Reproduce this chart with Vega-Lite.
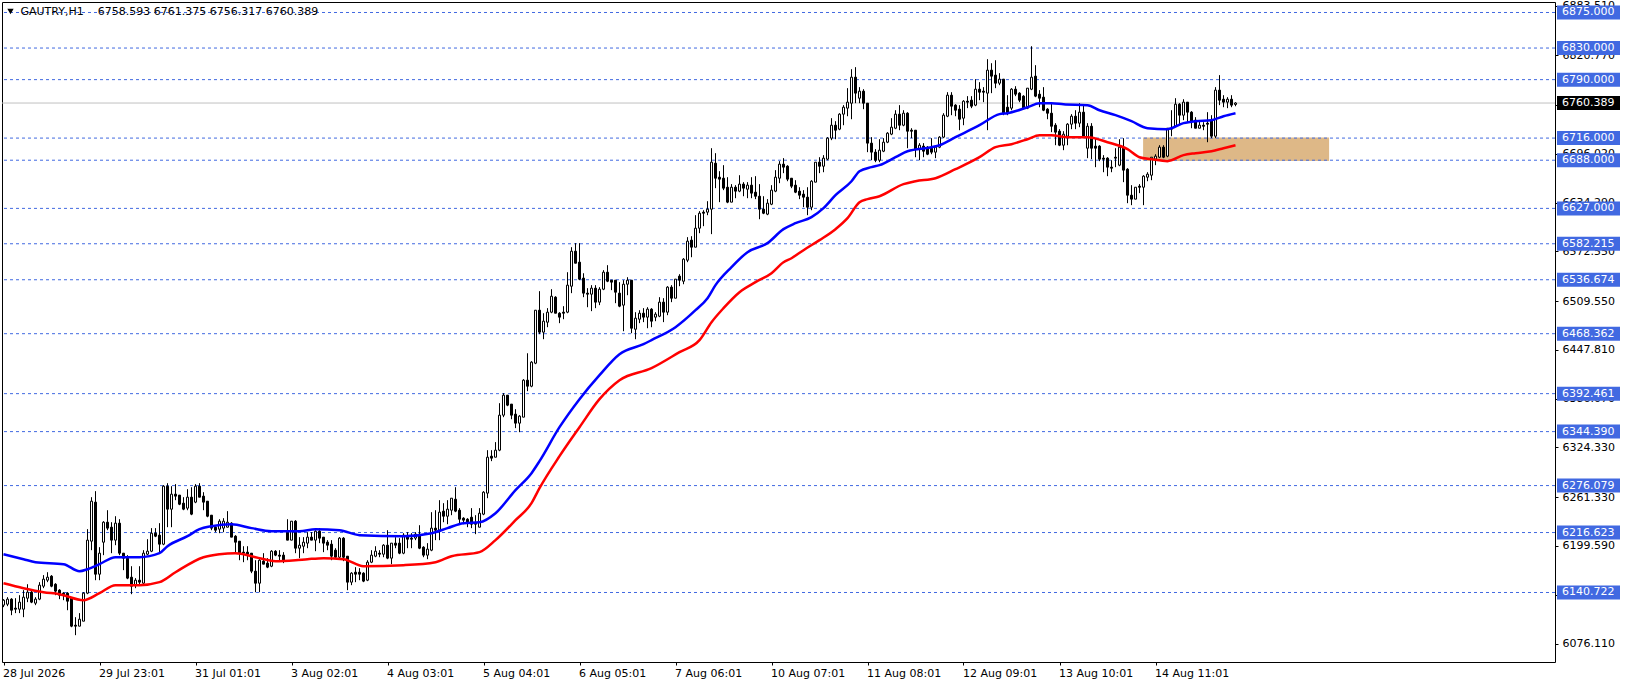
{
  "$schema": "https://vega.github.io/schema/vega-lite/v6.json",
  "autosize": {"type": "none"},
  "padding": {"left": 2, "top": 2, "right": 71, "bottom": 24},
  "width": 1553,
  "height": 660,
  "background": "white",
  "config": {
    "view": {"stroke": "black", "strokeWidth": 1},
    "font": "DejaVu Sans"
  },
  "datasets": {
    "candles": [
      {"i":0,"o":6124.7,"h":6132.3,"l":6122.2,"c":6131},
      {"i":1,"o":6125.9,"h":6134.8,"l":6123.4,"c":6132.3},
      {"i":2,"o":6132.3,"h":6133.5,"l":6112,"c":6118.3},
      {"i":3,"o":6120.9,"h":6133.5,"l":6114.6,"c":6119.6},
      {"i":4,"o":6119.6,"h":6137.3,"l":6114.6,"c":6128.5},
      {"i":5,"o":6119.6,"h":6143.7,"l":6109.5,"c":6134.8},
      {"i":6,"o":6133.5,"h":6151.2,"l":6128.5,"c":6141.1},
      {"i":7,"o":6141.1,"h":6143.7,"l":6127.2,"c":6128.5},
      {"i":8,"o":6127.2,"h":6134.8,"l":6124.7,"c":6132.3},
      {"i":9,"o":6132.3,"h":6153.8,"l":6131,"c":6150},
      {"i":10,"o":6148.7,"h":6162.7,"l":6146.2,"c":6157.6},
      {"i":11,"o":6156.3,"h":6166.4,"l":6153.8,"c":6160.1},
      {"i":12,"o":6161.4,"h":6162.7,"l":6147.4,"c":6148.7},
      {"i":13,"o":6151.2,"h":6152.5,"l":6137.3,"c":6142.4},
      {"i":14,"o":6143.7,"h":6144.9,"l":6132.3,"c":6137.3},
      {"i":15,"o":6139.9,"h":6141.1,"l":6131,"c":6137.3},
      {"i":16,"o":6139.9,"h":6141.1,"l":6118.3,"c":6129.7},
      {"i":17,"o":6133.5,"h":6134.8,"l":6096.8,"c":6098.1},
      {"i":18,"o":6099.3,"h":6109.5,"l":6086.7,"c":6098.1},
      {"i":19,"o":6098.1,"h":6114.6,"l":6098.1,"c":6106.9},
      {"i":20,"o":6104.4,"h":6141.1,"l":6104.4,"c":6139.9},
      {"i":21,"o":6139.9,"h":6220.9,"l":6138.6,"c":6207},
      {"i":22,"o":6205.7,"h":6261.4,"l":6194.3,"c":6256.3},
      {"i":23,"o":6255.1,"h":6269,"l":6156.3,"c":6163.9},
      {"i":24,"o":6163.9,"h":6198.1,"l":6156.3,"c":6190.5},
      {"i":25,"o":6204.4,"h":6231,"l":6188,"c":6229.7},
      {"i":26,"o":6229.7,"h":6244.9,"l":6219.6,"c":6222.2},
      {"i":27,"o":6223.4,"h":6229.7,"l":6190.5,"c":6207},
      {"i":28,"o":6207,"h":6237.3,"l":6200.6,"c":6228.5},
      {"i":29,"o":6228.5,"h":6233.5,"l":6188,"c":6190.5},
      {"i":30,"o":6190.5,"h":6190.5,"l":6169,"c":6184.2},
      {"i":31,"o":6184.2,"h":6188,"l":6157.6,"c":6158.9},
      {"i":32,"o":6160.1,"h":6174,"l":6138.6,"c":6148.7},
      {"i":33,"o":6150,"h":6158.9,"l":6146.2,"c":6156.3},
      {"i":34,"o":6156.3,"h":6174,"l":6151.2,"c":6153.8},
      {"i":35,"o":6152.5,"h":6194.3,"l":6151.2,"c":6190.5},
      {"i":36,"o":6189.2,"h":6208.2,"l":6188,"c":6193},
      {"i":37,"o":6193,"h":6222.2,"l":6191.8,"c":6215.8},
      {"i":38,"o":6215.8,"h":6222.2,"l":6210.8,"c":6212},
      {"i":39,"o":6213.3,"h":6228.5,"l":6190.5,"c":6201.9},
      {"i":40,"o":6201.9,"h":6276.6,"l":6200.6,"c":6275.3},
      {"i":41,"o":6275.3,"h":6279.1,"l":6223.4,"c":6246.2},
      {"i":42,"o":6246.2,"h":6275.3,"l":6223.4,"c":6265.2},
      {"i":43,"o":6265.2,"h":6277.9,"l":6257.6,"c":6262.7},
      {"i":44,"o":6264,"h":6264,"l":6251.3,"c":6252.5},
      {"i":45,"o":6253.8,"h":6261.4,"l":6244.9,"c":6246.2},
      {"i":46,"o":6247.5,"h":6271.5,"l":6244.9,"c":6261.4},
      {"i":47,"o":6261.4,"h":6274,"l":6238.6,"c":6239.9},
      {"i":48,"o":6255.1,"h":6277.9,"l":6253.8,"c":6275.3},
      {"i":49,"o":6275.3,"h":6279.1,"l":6261.4,"c":6261.4},
      {"i":50,"o":6262.7,"h":6267.7,"l":6244.9,"c":6255.1},
      {"i":51,"o":6256.3,"h":6256.3,"l":6236,"c":6237.3},
      {"i":52,"o":6238.6,"h":6238.6,"l":6219.6,"c":6222.2},
      {"i":53,"o":6223.4,"h":6225.9,"l":6217.1,"c":6219.6},
      {"i":54,"o":6220.9,"h":6233.5,"l":6215.8,"c":6231},
      {"i":55,"o":6222.2,"h":6234.8,"l":6217.1,"c":6231},
      {"i":56,"o":6223.4,"h":6243.7,"l":6223.4,"c":6229.7},
      {"i":57,"o":6228.5,"h":6229.7,"l":6210.8,"c":6210.8},
      {"i":58,"o":6212,"h":6213.3,"l":6190.5,"c":6204.4},
      {"i":59,"o":6205.7,"h":6205.7,"l":6181.6,"c":6190.5},
      {"i":60,"o":6191.8,"h":6199.3,"l":6179.1,"c":6190.5},
      {"i":61,"o":6191.8,"h":6199.3,"l":6181.6,"c":6189.2},
      {"i":62,"o":6190.5,"h":6190.5,"l":6165.2,"c":6167.7},
      {"i":63,"o":6167.7,"h":6181.6,"l":6141.1,"c":6152.5},
      {"i":64,"o":6152.5,"h":6182.9,"l":6141.1,"c":6181.6},
      {"i":65,"o":6180.4,"h":6190.5,"l":6176.6,"c":6176.6},
      {"i":66,"o":6177.9,"h":6184.2,"l":6171.5,"c":6172.8},
      {"i":67,"o":6174,"h":6194.3,"l":6172.8,"c":6193},
      {"i":68,"o":6193,"h":6194.3,"l":6186.7,"c":6188},
      {"i":69,"o":6188,"h":6194.3,"l":6181.6,"c":6186.7},
      {"i":70,"o":6188,"h":6191.8,"l":6177.9,"c":6181.6},
      {"i":71,"o":6217.1,"h":6233.5,"l":6207,"c":6207},
      {"i":72,"o":6207,"h":6231,"l":6207,"c":6231},
      {"i":73,"o":6231,"h":6232.3,"l":6190.5,"c":6196.8},
      {"i":74,"o":6196.8,"h":6210.8,"l":6184.2,"c":6200.6},
      {"i":75,"o":6199.3,"h":6210.8,"l":6190.5,"c":6204.4},
      {"i":76,"o":6203.2,"h":6217.1,"l":6196.8,"c":6210.8},
      {"i":77,"o":6210.8,"h":6217.1,"l":6207,"c":6207},
      {"i":78,"o":6207,"h":6219.6,"l":6193,"c":6218.3},
      {"i":79,"o":6218.3,"h":6222.2,"l":6203.2,"c":6209.5},
      {"i":80,"o":6210.8,"h":6210.8,"l":6191.8,"c":6203.2},
      {"i":81,"o":6204.4,"h":6207,"l":6194.3,"c":6200.6},
      {"i":82,"o":6201.9,"h":6207,"l":6181.6,"c":6186.7},
      {"i":83,"o":6194.3,"h":6196.8,"l":6184.2,"c":6185.4},
      {"i":84,"o":6185.4,"h":6210.8,"l":6184.2,"c":6209.5},
      {"i":85,"o":6209.5,"h":6210.8,"l":6180.4,"c":6185.4},
      {"i":86,"o":6186.7,"h":6186.7,"l":6143.7,"c":6153.8},
      {"i":87,"o":6153.8,"h":6166.4,"l":6150,"c":6165.2},
      {"i":88,"o":6166.4,"h":6172.8,"l":6153.8,"c":6163.9},
      {"i":89,"o":6166.4,"h":6171.5,"l":6156.3,"c":6163.9},
      {"i":90,"o":6165.2,"h":6166.4,"l":6153.8,"c":6155.1},
      {"i":91,"o":6156.3,"h":6181.6,"l":6155.1,"c":6179.1},
      {"i":92,"o":6179.1,"h":6194.3,"l":6177.9,"c":6188},
      {"i":93,"o":6186.7,"h":6199.3,"l":6185.4,"c":6193},
      {"i":94,"o":6190.5,"h":6194.3,"l":6185.4,"c":6189.2},
      {"i":95,"o":6189.2,"h":6201.9,"l":6185.4,"c":6200.6},
      {"i":96,"o":6200.6,"h":6219.6,"l":6182.9,"c":6184.2},
      {"i":97,"o":6184.2,"h":6203.2,"l":6176.6,"c":6203.2},
      {"i":98,"o":6203.2,"h":6210.8,"l":6196.8,"c":6200.6},
      {"i":99,"o":6203.2,"h":6209.5,"l":6189.2,"c":6190.5},
      {"i":100,"o":6190.5,"h":6215.8,"l":6189.2,"c":6213.3},
      {"i":101,"o":6212,"h":6217.1,"l":6196.8,"c":6208.2},
      {"i":102,"o":6209.5,"h":6215.8,"l":6196.8,"c":6208.2},
      {"i":103,"o":6209.5,"h":6217.1,"l":6207,"c":6214.6},
      {"i":104,"o":6214.6,"h":6225.9,"l":6195.6,"c":6196.8},
      {"i":105,"o":6198.1,"h":6199.3,"l":6185.4,"c":6188},
      {"i":106,"o":6188,"h":6203.2,"l":6182.9,"c":6195.6},
      {"i":107,"o":6194.3,"h":6242.4,"l":6193,"c":6222.2},
      {"i":108,"o":6222.2,"h":6244.9,"l":6207,"c":6219.6},
      {"i":109,"o":6219.6,"h":6257.6,"l":6207,"c":6242.4},
      {"i":110,"o":6243.7,"h":6253.8,"l":6229.7,"c":6237.3},
      {"i":111,"o":6237.3,"h":6257.6,"l":6227.2,"c":6246.2},
      {"i":112,"o":6244.9,"h":6260.1,"l":6238.6,"c":6260.1},
      {"i":113,"o":6258.8,"h":6274,"l":6242.4,"c":6243.7},
      {"i":114,"o":6244.9,"h":6247.5,"l":6228.5,"c":6233.5},
      {"i":115,"o":6234.8,"h":6236,"l":6227.2,"c":6232.3},
      {"i":116,"o":6233.5,"h":6234.8,"l":6223.4,"c":6228.5},
      {"i":117,"o":6236,"h":6247.5,"l":6222.2,"c":6227.2},
      {"i":118,"o":6228.5,"h":6238.6,"l":6214.6,"c":6227.2},
      {"i":119,"o":6223.4,"h":6247.5,"l":6223.4,"c":6241.1},
      {"i":120,"o":6239.9,"h":6269,"l":6238.6,"c":6267.7},
      {"i":121,"o":6266.5,"h":6320.9,"l":6260.1,"c":6312},
      {"i":122,"o":6313.3,"h":6320.9,"l":6307,"c":6310.8},
      {"i":123,"o":6312,"h":6331.1,"l":6312,"c":6320.9},
      {"i":124,"o":6320.9,"h":6380.4,"l":6319.6,"c":6365.2},
      {"i":125,"o":6365.2,"h":6393.1,"l":6362.7,"c":6390.5},
      {"i":126,"o":6390.5,"h":6390.5,"l":6376.6,"c":6377.9},
      {"i":127,"o":6379.2,"h":6379.2,"l":6360.1,"c":6365.2},
      {"i":128,"o":6366.5,"h":6372.8,"l":6348.8,"c":6355.1},
      {"i":129,"o":6355.1,"h":6365.2,"l":6343.7,"c":6364},
      {"i":130,"o":6362.7,"h":6410.8,"l":6362.7,"c":6409.5},
      {"i":131,"o":6409.5,"h":6443.6,"l":6395.6,"c":6401.9},
      {"i":132,"o":6401.9,"h":6433.6,"l":6400.6,"c":6432.3},
      {"i":133,"o":6431,"h":6498.1,"l":6429.8,"c":6498.1},
      {"i":134,"o":6498.1,"h":6522.2,"l":6467.8,"c":6470.3},
      {"i":135,"o":6470.3,"h":6494.3,"l":6461.4,"c":6484.2},
      {"i":136,"o":6482.9,"h":6500.7,"l":6476.6,"c":6495.6},
      {"i":137,"o":6495.6,"h":6524.7,"l":6494.3,"c":6515.8},
      {"i":138,"o":6514.6,"h":6515.8,"l":6494.3,"c":6494.3},
      {"i":139,"o":6494.3,"h":6495.6,"l":6481.7,"c":6489.3},
      {"i":140,"o":6495.6,"h":6503.2,"l":6486.7,"c":6494.3},
      {"i":141,"o":6495.6,"h":6546.2,"l":6494.3,"c":6529.8},
      {"i":142,"o":6528.5,"h":6577.9,"l":6519.7,"c":6572.8},
      {"i":143,"o":6572.8,"h":6583,"l":6557.6,"c":6557.6},
      {"i":144,"o":6558.9,"h":6583,"l":6536.1,"c":6537.4},
      {"i":145,"o":6538.7,"h":6544.9,"l":6514.6,"c":6519.7},
      {"i":146,"o":6519.7,"h":6526,"l":6501.9,"c":6518.4},
      {"i":147,"o":6518.4,"h":6529.8,"l":6496.9,"c":6526},
      {"i":148,"o":6526,"h":6529.8,"l":6500.7,"c":6508.3},
      {"i":149,"o":6508.3,"h":6527.3,"l":6504.5,"c":6524.7},
      {"i":150,"o":6524.7,"h":6548.8,"l":6523.5,"c":6546.2},
      {"i":151,"o":6546.2,"h":6555.1,"l":6533.6,"c":6534.8},
      {"i":152,"o":6536.1,"h":6536.1,"l":6523.5,"c":6533.6},
      {"i":153,"o":6536.1,"h":6536.1,"l":6507,"c":6520.9},
      {"i":154,"o":6519.7,"h":6533.6,"l":6501.9,"c":6503.2},
      {"i":155,"o":6504.5,"h":6536.1,"l":6471.5,"c":6531},
      {"i":156,"o":6531,"h":6539.9,"l":6517.1,"c":6536.1},
      {"i":157,"o":6536.1,"h":6536.1,"l":6469,"c":6475.3},
      {"i":158,"o":6474,"h":6495.6,"l":6461.4,"c":6488},
      {"i":159,"o":6486.7,"h":6498.1,"l":6481.7,"c":6494.3},
      {"i":160,"o":6494.3,"h":6500.7,"l":6483,"c":6489.3},
      {"i":161,"o":6489.3,"h":6501.9,"l":6475.3,"c":6499.4},
      {"i":162,"o":6499.4,"h":6500.7,"l":6476.6,"c":6484.2},
      {"i":163,"o":6489.3,"h":6495.6,"l":6484.2,"c":6493.1},
      {"i":164,"o":6490.5,"h":6514.6,"l":6489.3,"c":6508.3},
      {"i":165,"o":6508.3,"h":6513.3,"l":6483,"c":6495.6},
      {"i":166,"o":6495.6,"h":6528.5,"l":6491.8,"c":6527.3},
      {"i":167,"o":6527.3,"h":6529.8,"l":6508.3,"c":6513.3},
      {"i":168,"o":6513.3,"h":6537.4,"l":6513.3,"c":6537.4},
      {"i":169,"o":6541.2,"h":6543.7,"l":6528.5,"c":6536.1},
      {"i":170,"o":6534.8,"h":6564,"l":6531,"c":6562.7},
      {"i":171,"o":6561.4,"h":6590.6,"l":6558.9,"c":6585.5},
      {"i":172,"o":6586.8,"h":6591.8,"l":6565.2,"c":6577.9},
      {"i":173,"o":6577.9,"h":6618.4,"l":6577.9,"c":6601.9},
      {"i":174,"o":6601.9,"h":6623.5,"l":6595.6,"c":6620.9},
      {"i":175,"o":6622.2,"h":6624.7,"l":6604.5,"c":6620.9},
      {"i":176,"o":6622.2,"h":6636.1,"l":6618.4,"c":6626},
      {"i":177,"o":6626,"h":6703.2,"l":6594.4,"c":6685.5},
      {"i":178,"o":6684.2,"h":6696.9,"l":6652.6,"c":6665.2},
      {"i":179,"o":6666.5,"h":6674.1,"l":6634.9,"c":6664},
      {"i":180,"o":6665.2,"h":6681.7,"l":6650.1,"c":6652.6},
      {"i":181,"o":6653.8,"h":6666.5,"l":6633.6,"c":6634.9},
      {"i":182,"o":6634.9,"h":6657.7,"l":6634.9,"c":6653.8},
      {"i":183,"o":6653.8,"h":6656.4,"l":6639.9,"c":6648.8},
      {"i":184,"o":6648.8,"h":6669,"l":6647.5,"c":6657.7},
      {"i":185,"o":6657.7,"h":6660.2,"l":6642.4,"c":6652.6},
      {"i":186,"o":6651.3,"h":6660.2,"l":6639.9,"c":6656.4},
      {"i":187,"o":6656.4,"h":6666.5,"l":6639.9,"c":6646.3},
      {"i":188,"o":6647.5,"h":6667.8,"l":6638.7,"c":6642.4},
      {"i":189,"o":6642.4,"h":6657.7,"l":6613.3,"c":6626},
      {"i":190,"o":6626,"h":6642.4,"l":6619.7,"c":6620.9},
      {"i":191,"o":6619.7,"h":6638.7,"l":6618.4,"c":6633.6},
      {"i":192,"o":6632.3,"h":6656.4,"l":6631.1,"c":6650.1},
      {"i":193,"o":6648.8,"h":6675.4,"l":6647.5,"c":6666.5},
      {"i":194,"o":6665.2,"h":6686.8,"l":6658.9,"c":6683},
      {"i":195,"o":6683,"h":6690.6,"l":6671.6,"c":6679.2},
      {"i":196,"o":6680.4,"h":6681.7,"l":6661.4,"c":6664},
      {"i":197,"o":6665.2,"h":6665.2,"l":6652.6,"c":6655.1},
      {"i":198,"o":6656.4,"h":6662.7,"l":6646.3,"c":6647.5},
      {"i":199,"o":6648.8,"h":6653.8,"l":6638.7,"c":6643.7},
      {"i":200,"o":6645,"h":6650.1,"l":6628.5,"c":6641.2},
      {"i":201,"o":6641.2,"h":6653.8,"l":6618.4,"c":6628.5},
      {"i":202,"o":6628.5,"h":6662.7,"l":6624.7,"c":6661.4},
      {"i":203,"o":6660.2,"h":6685.5,"l":6660.2,"c":6685.5},
      {"i":204,"o":6685.5,"h":6691.8,"l":6671.6,"c":6680.4},
      {"i":205,"o":6680.4,"h":6694.4,"l":6672.8,"c":6690.6},
      {"i":206,"o":6689.3,"h":6717.2,"l":6688,"c":6715.9},
      {"i":207,"o":6715.9,"h":6741.2,"l":6713.4,"c":6732.3},
      {"i":208,"o":6732.3,"h":6737.4,"l":6714.6,"c":6726},
      {"i":209,"o":6727.3,"h":6747.5,"l":6726,"c":6746.3},
      {"i":210,"o":6746.3,"h":6757.7,"l":6732.3,"c":6755.1},
      {"i":211,"o":6753.9,"h":6779.2,"l":6743.7,"c":6761.5},
      {"i":212,"o":6760.2,"h":6803.2,"l":6739.9,"c":6793.1},
      {"i":213,"o":6793.1,"h":6805.8,"l":6760.2,"c":6772.9},
      {"i":214,"o":6766.5,"h":6780.5,"l":6760.2,"c":6775.4},
      {"i":215,"o":6775.4,"h":6777.9,"l":6752.6,"c":6760.2},
      {"i":216,"o":6760.2,"h":6760.2,"l":6698.2,"c":6709.6},
      {"i":217,"o":6709.6,"h":6717.2,"l":6688,"c":6698.2},
      {"i":218,"o":6698.2,"h":6702,"l":6685.5,"c":6688},
      {"i":219,"o":6688,"h":6714.6,"l":6685.5,"c":6700.7},
      {"i":220,"o":6699.4,"h":6715.9,"l":6698.2,"c":6710.8},
      {"i":221,"o":6710.8,"h":6723.5,"l":6709.6,"c":6722.2},
      {"i":222,"o":6721,"h":6741.2,"l":6719.7,"c":6729.8},
      {"i":223,"o":6728.5,"h":6751.3,"l":6727.3,"c":6746.3},
      {"i":224,"o":6746.3,"h":6757.7,"l":6726,"c":6732.3},
      {"i":225,"o":6732.3,"h":6751.3,"l":6731,"c":6747.5},
      {"i":226,"o":6747.5,"h":6748.8,"l":6703.2,"c":6724.7},
      {"i":227,"o":6726,"h":6728.5,"l":6715.9,"c":6724.7},
      {"i":228,"o":6726,"h":6726,"l":6691.8,"c":6702},
      {"i":229,"o":6702,"h":6709.6,"l":6688,"c":6707},
      {"i":230,"o":6705.8,"h":6709.6,"l":6691.8,"c":6699.4},
      {"i":231,"o":6704.5,"h":6705.8,"l":6694.4,"c":6695.6},
      {"i":232,"o":6703.2,"h":6715.9,"l":6695.6,"c":6698.2},
      {"i":233,"o":6698.2,"h":6707,"l":6690.6,"c":6704.5},
      {"i":234,"o":6704.5,"h":6718.4,"l":6703.2,"c":6717.2},
      {"i":235,"o":6717.2,"h":6747.5,"l":6715.9,"c":6745},
      {"i":236,"o":6743.7,"h":6774.1,"l":6742.5,"c":6770.3},
      {"i":237,"o":6770.3,"h":6774.1,"l":6745,"c":6756.4},
      {"i":238,"o":6757.7,"h":6758.9,"l":6743.7,"c":6751.3},
      {"i":239,"o":6752.6,"h":6757.7,"l":6726,"c":6739.9},
      {"i":240,"o":6741.2,"h":6764,"l":6732.3,"c":6762.7},
      {"i":241,"o":6762.7,"h":6769.1,"l":6753.9,"c":6761.5},
      {"i":242,"o":6764,"h":6769.1,"l":6753.9,"c":6756.4},
      {"i":243,"o":6757.7,"h":6790.6,"l":6756.4,"c":6777.9},
      {"i":244,"o":6777.9,"h":6786.8,"l":6764,"c":6774.1},
      {"i":245,"o":6775.4,"h":6780.5,"l":6761.5,"c":6774.1},
      {"i":246,"o":6772.9,"h":6815.9,"l":6726,"c":6802},
      {"i":247,"o":6802,"h":6810.8,"l":6772.9,"c":6794.4},
      {"i":248,"o":6795.7,"h":6814.6,"l":6779.2,"c":6785.5},
      {"i":249,"o":6785.5,"h":6798.2,"l":6783,"c":6790.6},
      {"i":250,"o":6790.6,"h":6790.6,"l":6745,"c":6747.5},
      {"i":251,"o":6755.1,"h":6770.3,"l":6745,"c":6747.5},
      {"i":252,"o":6753.9,"h":6779.2,"l":6751.3,"c":6777.9},
      {"i":253,"o":6777.9,"h":6781.7,"l":6769.1,"c":6771.6},
      {"i":254,"o":6772.9,"h":6774.1,"l":6761.5,"c":6764},
      {"i":255,"o":6769.1,"h":6770.3,"l":6752.6,"c":6753.9},
      {"i":256,"o":6753.9,"h":6779.2,"l":6752.6,"c":6779.2},
      {"i":257,"o":6777.9,"h":6832.3,"l":6776.7,"c":6793.1},
      {"i":258,"o":6794.4,"h":6808.3,"l":6767.8,"c":6769.1},
      {"i":259,"o":6771.6,"h":6776.7,"l":6755.1,"c":6766.5},
      {"i":260,"o":6767.8,"h":6780.5,"l":6750.1,"c":6751.3},
      {"i":261,"o":6752.6,"h":6753.9,"l":6739.9,"c":6747.5},
      {"i":262,"o":6747.5,"h":6760.2,"l":6723.5,"c":6731},
      {"i":263,"o":6732.3,"h":6734.9,"l":6707,"c":6723.5},
      {"i":264,"o":6724.7,"h":6727.3,"l":6705.8,"c":6707},
      {"i":265,"o":6707,"h":6724.7,"l":6700.7,"c":6720.9},
      {"i":266,"o":6718.4,"h":6734.9,"l":6707,"c":6733.6},
      {"i":267,"o":6733.6,"h":6746.3,"l":6727.3,"c":6743.7},
      {"i":268,"o":6743.7,"h":6751.3,"l":6727.3,"c":6734.9},
      {"i":269,"o":6734.9,"h":6760.2,"l":6729.8,"c":6748.8},
      {"i":270,"o":6748.8,"h":6757.7,"l":6715.9,"c":6717.2},
      {"i":271,"o":6703.2,"h":6734.9,"l":6690.6,"c":6731},
      {"i":272,"o":6731,"h":6734.9,"l":6689.3,"c":6703.2},
      {"i":273,"o":6705.8,"h":6715.9,"l":6679.2,"c":6703.2},
      {"i":274,"o":6705.8,"h":6707,"l":6686.8,"c":6689.3},
      {"i":275,"o":6690.6,"h":6694.4,"l":6672.8,"c":6689.3},
      {"i":276,"o":6690.6,"h":6691.8,"l":6667.8,"c":6679.2},
      {"i":277,"o":6679.2,"h":6688,"l":6672.8,"c":6677.9},
      {"i":278,"o":6691.8,"h":6703.2,"l":6679.2,"c":6690.6},
      {"i":279,"o":6681.7,"h":6714.6,"l":6680.4,"c":6704.5},
      {"i":280,"o":6704.5,"h":6715.9,"l":6660.2,"c":6675.4},
      {"i":281,"o":6676.6,"h":6677.9,"l":6633.6,"c":6643.7},
      {"i":282,"o":6643.7,"h":6656.4,"l":6631.1,"c":6638.7},
      {"i":283,"o":6638.7,"h":6653.8,"l":6638.7,"c":6653.8},
      {"i":284,"o":6655.1,"h":6657.7,"l":6646.3,"c":6653.8},
      {"i":285,"o":6653.8,"h":6669,"l":6631.1,"c":6667.8},
      {"i":286,"o":6666.5,"h":6672.8,"l":6661.4,"c":6670.3},
      {"i":287,"o":6669,"h":6691.8,"l":6662.7,"c":6691.8},
      {"i":288,"o":6689.3,"h":6695.6,"l":6681.7,"c":6693.1},
      {"i":289,"o":6691.8,"h":6707,"l":6690.6,"c":6704.5},
      {"i":290,"o":6704.5,"h":6707,"l":6690.6,"c":6691.8},
      {"i":291,"o":6693.1,"h":6728.5,"l":6691.8,"c":6728.5},
      {"i":292,"o":6727.3,"h":6751.3,"l":6718.4,"c":6728.5},
      {"i":293,"o":6731,"h":6766.5,"l":6729.8,"c":6758.9},
      {"i":294,"o":6758.9,"h":6760.2,"l":6732.3,"c":6745},
      {"i":295,"o":6745,"h":6765.2,"l":6738.7,"c":6761.5},
      {"i":296,"o":6761.5,"h":6761.5,"l":6736.1,"c":6748.8},
      {"i":297,"o":6748.8,"h":6750.1,"l":6728.5,"c":6737.4},
      {"i":298,"o":6738.7,"h":6742.5,"l":6728.5,"c":6728.5},
      {"i":299,"o":6728.5,"h":6738.7,"l":6728.5,"c":6732.3},
      {"i":300,"o":6732.3,"h":6736.1,"l":6726,"c":6731},
      {"i":301,"o":6734.9,"h":6748.8,"l":6710.8,"c":6733.6},
      {"i":302,"o":6738.7,"h":6745,"l":6715.9,"c":6718.4},
      {"i":303,"o":6718.4,"h":6780.5,"l":6715.9,"c":6776.7},
      {"i":304,"o":6776.7,"h":6795.7,"l":6757.7,"c":6764},
      {"i":305,"o":6765.2,"h":6770.3,"l":6755.1,"c":6761.5},
      {"i":306,"o":6761.5,"h":6767.8,"l":6753.9,"c":6765.2},
      {"i":307,"o":6765.2,"h":6770.3,"l":6755.1,"c":6757.7},
      {"i":308,"o":6758.593,"h":6761.375,"l":6756.317,"c":6760.389}
    ],
    "ma": [
      {"series":"fast","i":0,"price":6189.2},{"series":"fast","i":5,"price":6182.9},{"series":"fast","i":8,"price":6179.1},
      {"series":"fast","i":15,"price":6176.6},{"series":"fast","i":19,"price":6167.7},{"series":"fast","i":21,"price":6170.2},
      {"series":"fast","i":24,"price":6176.6},{"series":"fast","i":28,"price":6185.4},{"series":"fast","i":34,"price":6185.4},
      {"series":"fast","i":39,"price":6190.5},{"series":"fast","i":41,"price":6199.3},{"series":"fast","i":46,"price":6212},
      {"series":"fast","i":49,"price":6220.9},{"series":"fast","i":52,"price":6224.7},{"series":"fast","i":57,"price":6227.2},
      {"series":"fast","i":62,"price":6222.2},{"series":"fast","i":67,"price":6218.3},{"series":"fast","i":71,"price":6218.3},
      {"series":"fast","i":74,"price":6218.3},{"series":"fast","i":78,"price":6220.9},{"series":"fast","i":84,"price":6219.6},
      {"series":"fast","i":89,"price":6213.3},{"series":"fast","i":100,"price":6212},{"series":"fast","i":107,"price":6215.8},
      {"series":"fast","i":111,"price":6222.2},{"series":"fast","i":115,"price":6228.5},{"series":"fast","i":119,"price":6229.7},
      {"series":"fast","i":123,"price":6241.1},{"series":"fast","i":128,"price":6270.3},{"series":"fast","i":132,"price":6291.8},
      {"series":"fast","i":134,"price":6307},{"series":"fast","i":139,"price":6350},{"series":"fast","i":144,"price":6385.5},
      {"series":"fast","i":149,"price":6415.9},{"series":"fast","i":154,"price":6442.4},{"series":"fast","i":160,"price":6455.1},
      {"series":"fast","i":162,"price":6460.2},{"series":"fast","i":168,"price":6476.6},{"series":"fast","i":173,"price":6498.1},
      {"series":"fast","i":176,"price":6513.3},{"series":"fast","i":178,"price":6529.8},{"series":"fast","i":182,"price":6552.6},
      {"series":"fast","i":186,"price":6571.6},{"series":"fast","i":191,"price":6583},{"series":"fast","i":195,"price":6600.7},
      {"series":"fast","i":198,"price":6608.3},{"series":"fast","i":202,"price":6615.9},{"series":"fast","i":205,"price":6627.3},
      {"series":"fast","i":208,"price":6643.7},{"series":"fast","i":212,"price":6661.4},{"series":"fast","i":214,"price":6674.1},
      {"series":"fast","i":217,"price":6679.2},{"series":"fast","i":219,"price":6681.7},{"series":"fast","i":223,"price":6691.8},
      {"series":"fast","i":226,"price":6699.4},{"series":"fast","i":232,"price":6704.5},{"series":"fast","i":234,"price":6707},
      {"series":"fast","i":238,"price":6717.2},{"series":"fast","i":244,"price":6732.3},{"series":"fast","i":249,"price":6746.3},
      {"series":"fast","i":251,"price":6747.5},{"series":"fast","i":256,"price":6755.1},{"series":"fast","i":259,"price":6760.2},
      {"series":"fast","i":262,"price":6760.2},{"series":"fast","i":265,"price":6758.9},{"series":"fast","i":271,"price":6757.7},
      {"series":"fast","i":274,"price":6751.3},{"series":"fast","i":278,"price":6745},{"series":"fast","i":282,"price":6737.4},
      {"series":"fast","i":286,"price":6728.5},{"series":"fast","i":291,"price":6727.3},{"series":"fast","i":295,"price":6734.9},
      {"series":"fast","i":298,"price":6737.4},{"series":"fast","i":302,"price":6738.7},{"series":"fast","i":305,"price":6743.7},
      {"series":"fast","i":308,"price":6747.5},
      {"series":"slow","i":0,"price":6152.5},{"series":"slow","i":5,"price":6146.2},{"series":"slow","i":10,"price":6141.1},
      {"series":"slow","i":14,"price":6138.6},{"series":"slow","i":20,"price":6131},{"series":"slow","i":24,"price":6139.9},
      {"series":"slow","i":28,"price":6150},{"series":"slow","i":34,"price":6150},{"series":"slow","i":39,"price":6153.8},
      {"series":"slow","i":43,"price":6166.4},{"series":"slow","i":50,"price":6185.4},{"series":"slow","i":54,"price":6189.2},
      {"series":"slow","i":58,"price":6190.5},{"series":"slow","i":63,"price":6185.4},{"series":"slow","i":68,"price":6180.4},
      {"series":"slow","i":73,"price":6181.6},{"series":"slow","i":76,"price":6182.9},{"series":"slow","i":80,"price":6184.2},
      {"series":"slow","i":85,"price":6182.9},{"series":"slow","i":90,"price":6174},{"series":"slow","i":100,"price":6175.3},
      {"series":"slow","i":108,"price":6179.1},{"series":"slow","i":112,"price":6186.7},{"series":"slow","i":119,"price":6191.8},
      {"series":"slow","i":123,"price":6207},{"series":"slow","i":128,"price":6232.3},{"series":"slow","i":132,"price":6253.8},
      {"series":"slow","i":134,"price":6272.8},{"series":"slow","i":139,"price":6313.3},{"series":"slow","i":144,"price":6350},
      {"series":"slow","i":149,"price":6385.5},{"series":"slow","i":154,"price":6409.5},{"series":"slow","i":162,"price":6424.7},
      {"series":"slow","i":169,"price":6445},{"series":"slow","i":174,"price":6460.2},{"series":"slow","i":177,"price":6482.9},
      {"series":"slow","i":180,"price":6500.7},{"series":"slow","i":184,"price":6520.9},{"series":"slow","i":188,"price":6533.6},
      {"series":"slow","i":192,"price":6545},{"series":"slow","i":195,"price":6558.9},{"series":"slow","i":197,"price":6563.9},
      {"series":"slow","i":200,"price":6574.1},{"series":"slow","i":204,"price":6586.8},{"series":"slow","i":208,"price":6600.7},
      {"series":"slow","i":211,"price":6614.6},{"series":"slow","i":214,"price":6634.9},{"series":"slow","i":216,"price":6638.7},
      {"series":"slow","i":219,"price":6642.4},{"series":"slow","i":225,"price":6657.7},{"series":"slow","i":228,"price":6661.4},
      {"series":"slow","i":233,"price":6665.2},{"series":"slow","i":238,"price":6676.6},{"series":"slow","i":244,"price":6691.8},
      {"series":"slow","i":248,"price":6704.5},{"series":"slow","i":252,"price":6708.3},{"series":"slow","i":256,"price":6714.6},
      {"series":"slow","i":259,"price":6719.7},{"series":"slow","i":262,"price":6719.7},{"series":"slow","i":266,"price":6717.2},
      {"series":"slow","i":271,"price":6717.2},{"series":"slow","i":276,"price":6710.8},{"series":"slow","i":281,"price":6702},
      {"series":"slow","i":284,"price":6691.8},{"series":"slow","i":287,"price":6689.3},{"series":"slow","i":291,"price":6686.8},
      {"series":"slow","i":295,"price":6694.4},{"series":"slow","i":298,"price":6696.9},{"series":"slow","i":302,"price":6699.4},
      {"series":"slow","i":305,"price":6703.2},{"series":"slow","i":308,"price":6707}
    ],
    "levels": [
      {"price":6875},{"price":6830},{"price":6790},{"price":6716},{"price":6688},{"price":6627},{"price":6582.215},
      {"price":6536.674},{"price":6468.362},{"price":6392.461},{"price":6344.39},{"price":6276.079},{"price":6216.623},{"price":6140.722}
    ],
    "current": [{"price":6760.389}],
    "zone": [{"start":284.9,"end":331.4,"top":6716.8,"bottom":6687}],
    "header": [{"label":"GAUTRY,H1\u00a0\u00a0\u00a0\u00a06758.593 6761.375 6756.317 6760.389"}]
  },
  "layer": [
    {
      "data": {"name": "zone"},
      "mark": {"type": "rect", "color": "#deb887"},
      "encoding": {
        "x": {
          "field": "start",
          "type": "quantitative",
          "scale": {"domain": [-0.375, 387.875], "nice": false, "zero": false, "padding": 0},
          "axis": {
            "orient": "bottom",
            "title": null,
            "grid": false,
            "domain": false,
            "values": [0, 24, 48, 72, 96, 120, 144, 168, 192, 216, 240, 264, 288],
            "labelExpr": "['28 Jul 2026','29 Jul 23:01','31 Jul 01:01','3 Aug 02:01','4 Aug 03:01','5 Aug 04:01','6 Aug 05:01','7 Aug 06:01','10 Aug 07:01','11 Aug 08:01','12 Aug 09:01','13 Aug 10:01','14 Aug 11:01'][datum.value / 24]",
            "labelAlign": "left",
            "labelBaseline": "top",
            "labelFont": "DejaVu Sans",
            "labelFontSize": 11,
            "labelColor": "black",
            "labelPadding": 2,
            "labelOffset": -1,
            "labelBound": false,
            "labelFlush": false,
            "labelOverlap": false,
            "tickColor": "black",
            "tickSize": 3
          }
        },
        "x2": {"field": "end"},
        "y": {
          "field": "top",
          "type": "quantitative",
          "scale": {"domain": [6052.73, 6888.29], "nice": false, "zero": false},
          "axis": {
            "orient": "right",
            "title": null,
            "grid": false,
            "domain": false,
            "values": [6883.51, 6820.77, 6758.03, 6696.02, 6634.29, 6572.55, 6509.55, 6447.81, 6386.07, 6324.33, 6261.33, 6199.59, 6137.85, 6076.11],
            "format": ".3f",
            "labelFont": "DejaVu Sans",
            "labelFontSize": 11,
            "labelColor": "black",
            "labelPadding": 4,
            "labelBound": false,
            "labelFlush": false,
            "labelOverlap": false,
            "tickColor": "black",
            "tickSize": 3
          }
        },
        "y2": {"field": "bottom"}
      }
    },
    {
      "data": {"name": "levels"},
      "mark": {"type": "rule", "color": "#4169e1", "strokeWidth": 1, "strokeDash": [3, 3]},
      "encoding": {"y": {"field": "price", "type": "quantitative"}}
    },
    {
      "data": {"name": "current"},
      "mark": {"type": "rule", "color": "#c0c0c0", "strokeWidth": 1},
      "encoding": {"y": {"field": "price", "type": "quantitative"}}
    },
    {
      "data": {"name": "candles"},
      "mark": {"type": "rule", "color": "black", "strokeWidth": 1},
      "encoding": {
        "x": {"field": "i", "type": "quantitative"},
        "y": {"field": "l", "type": "quantitative"},
        "y2": {"field": "h"}
      }
    },
    {
      "data": {"name": "candles"},
      "mark": {"type": "bar", "orient": "vertical", "size": 2, "stroke": "black", "strokeWidth": 1},
      "encoding": {
        "x": {"field": "i", "type": "quantitative"},
        "y": {"field": "o", "type": "quantitative"},
        "y2": {"field": "c"},
        "fill": {
          "condition": {"test": "datum.c > datum.o", "value": "white"},
          "value": "black"
        }
      }
    },
    {
      "data": {"name": "ma"},
      "mark": {"type": "line", "strokeWidth": 2.5, "interpolate": "monotone"},
      "encoding": {
        "x": {"field": "i", "type": "quantitative"},
        "y": {"field": "price", "type": "quantitative"},
        "color": {
          "field": "series",
          "type": "nominal",
          "scale": {"domain": ["fast", "slow"], "range": ["#0000ff", "#ff0000"]},
          "legend": null
        }
      }
    },
    {
      "data": {"name": "levels"},
      "mark": {"type": "rule", "color": "#4169e1", "strokeWidth": 14},
      "encoding": {
        "x": {"datum": 388.375, "type": "quantitative"},
        "x2": {"datum": 404.125},
        "y": {"field": "price", "type": "quantitative"}
      }
    },
    {
      "data": {"name": "levels"},
      "mark": {"type": "text", "align": "left", "baseline": "middle", "color": "white", "font": "DejaVu Sans", "fontSize": 11},
      "encoding": {
        "x": {"datum": 389.625, "type": "quantitative"},
        "y": {"field": "price", "type": "quantitative"},
        "text": {"field": "price", "type": "quantitative", "format": ".3f"}
      }
    },
    {
      "data": {"name": "current"},
      "mark": {"type": "rule", "color": "black", "strokeWidth": 14},
      "encoding": {
        "x": {"datum": 388.375, "type": "quantitative"},
        "x2": {"datum": 404.125},
        "y": {"field": "price", "type": "quantitative"}
      }
    },
    {
      "data": {"name": "current"},
      "mark": {"type": "text", "align": "left", "baseline": "middle", "color": "white", "font": "DejaVu Sans", "fontSize": 11},
      "encoding": {
        "x": {"datum": 389.625, "type": "quantitative"},
        "y": {"field": "price", "type": "quantitative"},
        "text": {"field": "price", "type": "quantitative", "format": ".3f"}
      }
    },
    {
      "data": {"name": "header"},
      "mark": {"type": "point", "shape": "triangle-down", "filled": true, "color": "black", "size": 40, "opacity": 1},
      "encoding": {
        "x": {"datum": 1.75, "type": "quantitative"},
        "y": {"datum": 6876.3, "type": "quantitative"}
      }
    },
    {
      "data": {"name": "header"},
      "mark": {"type": "text", "align": "left", "baseline": "middle", "color": "black", "font": "DejaVu Sans", "fontSize": 11},
      "encoding": {
        "x": {"datum": 4.25, "type": "quantitative"},
        "y": {"datum": 6875.5, "type": "quantitative"},
        "text": {"field": "label"}
      }
    }
  ]
}
